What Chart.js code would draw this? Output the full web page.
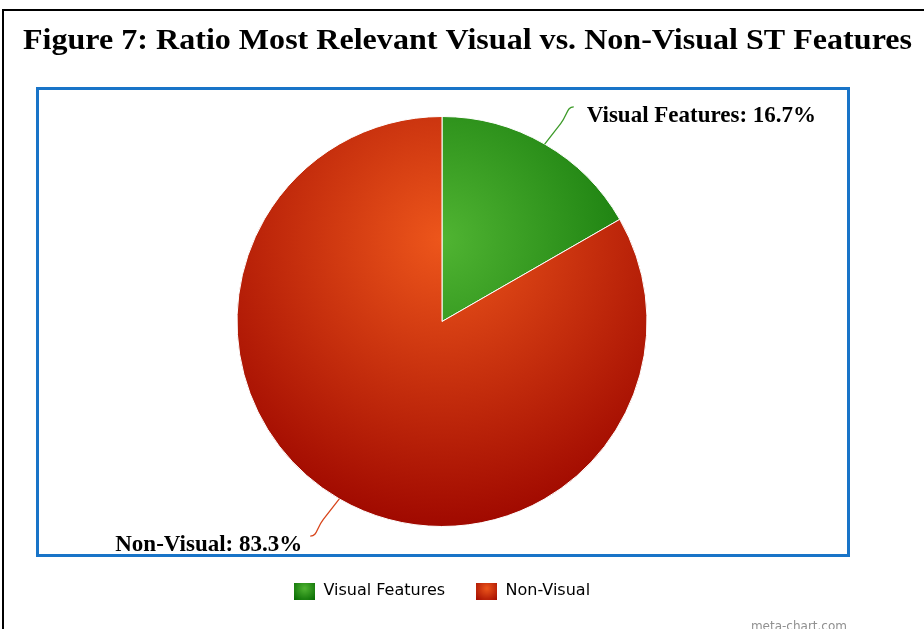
<!DOCTYPE html>
<html>
<head>
<meta charset="utf-8">
<title>Figure 7</title>
<script src="https://cdn.jsdelivr.net/npm/chart.js@4.4.0/dist/chart.umd.min.js"></script>
<style>
  html, body { margin: 0; padding: 0; background: #ffffff; }
  #wrap { position: relative; width: 924px; height: 629px; overflow: hidden; background: #ffffff; }
  canvas { display: block; }
</style>
</head>
<body>
<div id="wrap"><canvas id="pie" width="924" height="629"></canvas></div>
<script>
// Chart content
const chartTitle = 'Figure 7: Ratio Most Relevant Visual vs. Non-Visual ST Features';
const categories = ['Visual Features', 'Non-Visual'];
const shares = [16.7, 83.3];
const creditText = 'meta-chart.com';

// Slice colours: gradient centre colour and rim colour
const baseColors = ['#50B432', '#ED561B'];
const rimColors = ['#036700', '#A00900'];
const connectorColors = ['#3c9a28', '#d8441a'];

// Geometry / style constants
const PIE_RADIUS = 205;
const TITLE_WIDTH = 889;
const SERIF = '"Liberation Serif", "Times New Roman", serif';
const SANS = '"DejaVu Sans", "Liberation Sans", sans-serif';

function pieGradient(g, cx, cy, r, i) {
  // radial highlight in the upper part of the disc
  const d = r * 2;
  const gx = cx, gy = cy - r + 0.3 * d;
  const grad = g.createRadialGradient(gx, gy, 0, gx, gy, 0.7 * d);
  grad.addColorStop(0, baseColors[i]);
  grad.addColorStop(1, rimColors[i]);
  return grad;
}

function sliceFill(context) {
  const chart = context.chart;
  const area = chart.chartArea;
  const i = context.dataIndex;
  if (!area) return baseColors[i];
  const cx = (area.left + area.right) / 2;
  const cy = (area.top + area.bottom) / 2;
  return pieGradient(chart.ctx, cx, cy, PIE_RADIUS, i);
}

// small gradient swatches for the legend
function legendSwatch(i) {
  const w = 21, h = 17;
  const cv = document.createElement('canvas');
  cv.width = w; cv.height = h;
  const g = cv.getContext('2d');
  const grad = g.createRadialGradient(w / 2, h * 0.35, 0, w / 2, h * 0.35, w * 0.75);
  grad.addColorStop(0, baseColors[i]);
  grad.addColorStop(1, rimColors[i]);
  g.fillStyle = grad;
  g.fillRect(0, 0, w, h);
  return cv;
}
const swatches = categories.map((_, i) => legendSwatch(i));

// frame, blue plot box, title and credit
const decorPlugin = {
  id: 'decor',
  beforeDraw(chart) {
    const g = chart.ctx;
    g.save();
    g.fillStyle = '#ffffff';
    g.fillRect(0, 0, chart.width, chart.height);
    g.strokeStyle = '#000000';
    g.lineWidth = 2;
    g.beginPath();
    g.moveTo(3, chart.height);
    g.lineTo(3, 10);
    g.lineTo(chart.width, 10);
    g.stroke();
    g.strokeStyle = '#1874c8';
    g.lineWidth = 3;
    g.strokeRect(37.5, 88.5, 811, 467);
    g.restore();
  },
  afterDraw(chart) {
    const g = chart.ctx;
    g.save();
    // title, stretched horizontally to span the frame
    g.fillStyle = '#000000';
    g.font = 'bold 29px ' + SERIF;
    g.textAlign = 'left';
    g.textBaseline = 'alphabetic';
    const w = g.measureText(chartTitle).width;
    g.translate(23, 49);
    g.scale(TITLE_WIDTH / w, 1);
    g.fillText(chartTitle, 0, 0);
    g.setTransform(1, 0, 0, 1, 0, 0);
    // credit line
    g.fillStyle = '#909090';
    g.font = '12px ' + SANS;
    g.textAlign = 'right';
    g.fillText(creditText, 847, 630);
    g.restore();
  }
};

// data labels with connector lines outside the pie
const calloutPlugin = {
  id: 'callouts',
  afterDatasetsDraw(chart) {
    const meta = chart.getDatasetMeta(0);
    const total = shares.reduce((a, b) => a + b, 0);
    const g = chart.ctx;
    g.save();
    meta.data.forEach((arc, i) => {
      const p = arc.getProps(['x', 'y', 'startAngle', 'endAngle', 'outerRadius'], true);
      const mid = (p.startAngle + p.endAngle) / 2;
      const dx = Math.cos(mid), dy = Math.sin(mid);
      const side = dx >= 0 ? 1 : -1;
      const ax = p.x + p.outerRadius * dx, ay = p.y + p.outerRadius * dy;
      const ex = ax + dx * 58, ey = ay + dy * 43;
      const bx = ax + (ex - ax) * 0.55, by = ay + (ey - ay) * 0.55;
      g.strokeStyle = connectorColors[i];
      g.lineWidth = 1.3;
      g.beginPath();
      g.moveTo(ax, ay);
      g.lineTo(bx, by);
      g.bezierCurveTo(bx + (bx - ax) * 0.45, by + (by - ay) * 0.45, ex - side * 7, ey, ex, ey);
      g.stroke();

      const pct = (shares[i] / total * 100).toFixed(1);
      const text = categories[i] + ': ' + pct + '%';
      g.fillStyle = '#000000';
      g.font = 'bold 23px ' + SERIF;
      g.textBaseline = 'alphabetic';
      if (side > 0) {
        g.textAlign = 'left';
        g.fillText(text, ex + 13, ey + 15);
      } else {
        g.textAlign = 'right';
        g.fillText(text, ex - 8, ey + 15);
      }
    });
    g.restore();
  }
};

new Chart(document.getElementById('pie'), {
  type: 'pie',
  data: {
    labels: categories,
    datasets: [{
      data: shares,
      backgroundColor: sliceFill,
      borderColor: '#ffffff',
      borderWidth: 1,
      radius: PIE_RADIUS
    }]
  },
  options: {
    responsive: false,
    devicePixelRatio: 1,
    animation: false,
    layout: { padding: { top: 91, bottom: 20, left: 37, right: 77 } },
    plugins: {
      title: { display: false },
      tooltip: { enabled: false },
      legend: {
        display: true,
        position: 'bottom',
        align: 'center',
        labels: {
          usePointStyle: true,
          pointStyleWidth: 21.5,
          padding: 31,
          color: '#333333',
          font: { family: SANS, size: 16 },
          generateLabels: () => categories.map((name, i) => ({
            text: name,
            pointStyle: swatches[i],
            fillStyle: baseColors[i],
            strokeStyle: 'rgba(0,0,0,0)',
            lineWidth: 0,
            hidden: false,
            index: i,
            datasetIndex: 0
          }))
        }
      }
    }
  },
  plugins: [decorPlugin, calloutPlugin]
});
</script>
</body>
</html>
